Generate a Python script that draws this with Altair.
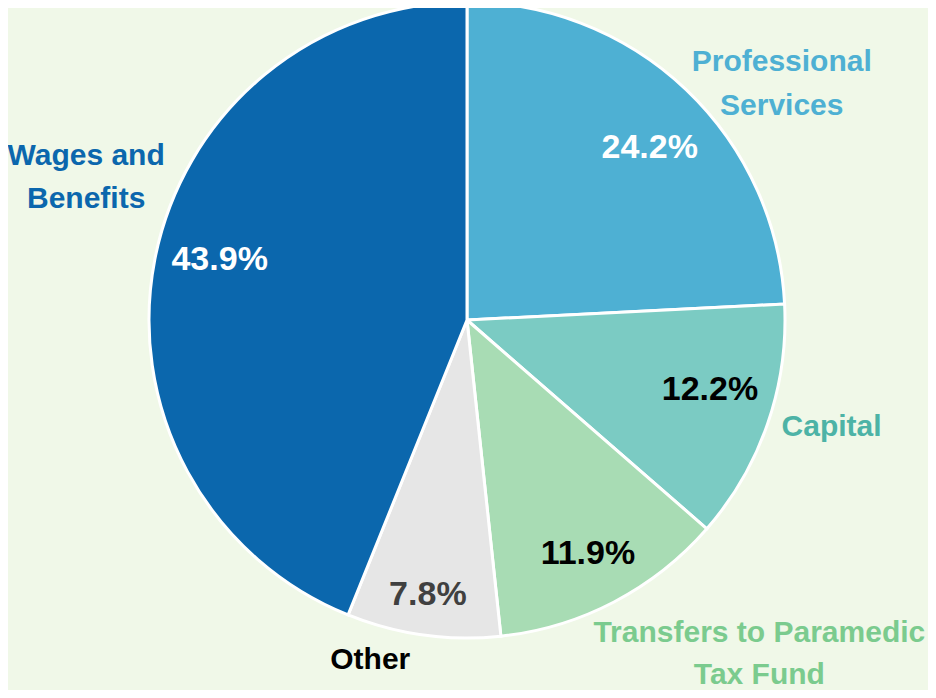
import altair as alt
import pandas as pd

# ---- data ----
categories = ["Professional Services", "Capital", "Transfers to Paramedic Tax Fund", "Other", "Wages and Benefits"]
label_text = ["Professional\nServices", "Capital", "Transfers to Paramedic\nTax Fund", "Other", "Wages and\nBenefits"]
values = [24.2, 12.2, 11.9, 7.8, 43.9]

# ---- styles ----
slice_colors = ["#4eb0d3", "#7bcbc3", "#a8dcb4", "#e6e6e6", "#0b67ad"]
name_colors = ["#4eb0d3", "#4db3a6", "#7bcb8e", "#000000", "#0b67ad"]
pct_colors = ["#ffffff", "#000000", "#000000", "#404040", "#ffffff"]
name_offsets = [(46, 25), (-4, -20), (112, -33), (-43, -46), (2, -90)]
pct_offsets = [(7, 13), (2, -13), (3, 8), (-4, 22), (3, -11)]
line_heights = [44, 44, 42, 44, 43]

FONT = "Liberation Sans"
CX, CY, R = 459, 312, 318

df = pd.DataFrame({
    "idx": list(range(len(categories))),
    "cat": categories,
    "label": label_text,
    "value": values,
})
df["pct"] = [f"{v:.1f}%" for v in values]

base = alt.Chart(df).transform_window(
    cum="sum(value)", sort=[{"field": "idx"}]
).transform_calculate(
    start="datum.cum - datum.value",
    mid="datum.cum - datum.value / 2",
)

theta_scale = alt.Scale(domain=[0, 100], range=[0, 6.283185307179586])

arcs = base.mark_arc(stroke="white", strokeWidth=3).encode(
    theta=alt.Theta("start:Q", scale=theta_scale),
    theta2="cum:Q",
    color=alt.Color("cat:N", scale=alt.Scale(domain=categories, range=slice_colors), legend=None),
    x=alt.value(CX),
    y=alt.value(CY),
    radius=alt.value(R),
)

layers = [arcs]
for i, cat in enumerate(categories):
    sub = base.transform_filter(alt.datum.cat == cat)
    layers.append(
        sub.mark_text(
            font=FONT, fontSize=34, fontWeight="bold", color=pct_colors[i],
            align="center", baseline="middle",
            dx=pct_offsets[i][0], dy=pct_offsets[i][1],
        ).encode(
            theta=alt.Theta("mid:Q", scale=theta_scale),
            radius=alt.value(255),
            x=alt.value(CX), y=alt.value(CY),
            text="pct:N",
        )
    )
    layers.append(
        sub.mark_text(
            font=FONT, fontSize=30, fontWeight="bold", color=name_colors[i],
            align="center", baseline="middle", lineBreak="\n", lineHeight=line_heights[i],
            dx=name_offsets[i][0], dy=name_offsets[i][1],
        ).encode(
            theta=alt.Theta("mid:Q", scale=theta_scale),
            radius=alt.value(390),
            x=alt.value(CX), y=alt.value(CY),
            text="label:N",
        )
    )

chart = alt.layer(*layers).properties(
    width=920, height=682, padding=0, autosize=alt.AutoSizeParams(type="none"),
    background="#f0f8e8",
).configure_view(stroke=None)

chart.save("out.html", embed_options={"renderer": "svg", "actions": False})
